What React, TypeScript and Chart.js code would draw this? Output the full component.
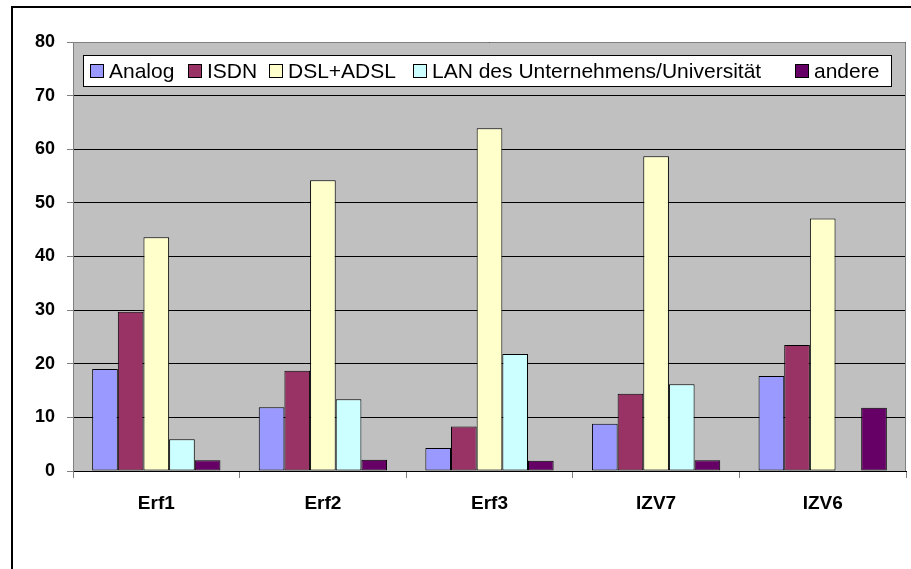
import React, { useEffect, useRef } from "react";
import { Chart, registerables } from "chart.js";

Chart.register(...registerables);

const categories = ["Erf1", "Erf2", "Erf3", "IZV7", "IZV6"];
const seriesNames = ["Analog", "ISDN", "DSL+ADSL", "LAN des Unternehmens/Universität", "andere"];
const analog = [19.0, 11.9, 4.3, 8.8, 17.7];
const isdn = [29.7, 18.7, 8.3, 14.4, 23.5];
const dsl = [43.6, 54.2, 63.9, 58.7, 47.1];
const lan = [5.9, 13.4, 21.8, 16.2, null];
const andere = [2.0, 2.1, 1.9, 2.0, 11.8];
const yMin = 0;
const yMax = 80;
const yStep = 10;

const seriesColors = ["#9999FF", "#993366", "#FFFFCC", "#CCFFFF", "#660066"];

const FONT = "'Liberation Sans', Arial, sans-serif";

// layout of the legend (Excel style, inside the plot)
const LEGEND_BOX = { x1: 83.5, y1: 55.5, x2: 891.5, y2: 86.5 };
const LEGEND_ITEM_X = [90, 188, 269, 413, 795];

const framePlugin = {
  id: "frame",
  beforeDraw(chart: any) {
    const { ctx, width, height, chartArea } = chart;
    ctx.save();
    ctx.fillStyle = "#ffffff";
    ctx.fillRect(0, 0, width, height);
    // outer chart frame (cropped at right/bottom)
    ctx.strokeStyle = "#000000";
    ctx.lineWidth = 2;
    ctx.beginPath();
    ctx.moveTo(12, height + 2);
    ctx.lineTo(12, 7);
    ctx.lineTo(width + 2, 7);
    ctx.stroke();
    // plot background
    ctx.fillStyle = "#C0C0C0";
    ctx.fillRect(chartArea.left, chartArea.top, chartArea.right - chartArea.left, chartArea.bottom - chartArea.top);
    ctx.restore();
  },
  beforeDatasetsDraw(chart: any) {
    const { ctx, chartArea } = chart;
    ctx.save();
    ctx.strokeStyle = "#808080";
    ctx.lineWidth = 1;
    ctx.beginPath();
    ctx.moveTo(chartArea.left + 0.5, chartArea.bottom);
    ctx.lineTo(chartArea.left + 0.5, chartArea.top + 0.5);
    ctx.lineTo(chartArea.right - 0.5, chartArea.top + 0.5);
    ctx.lineTo(chartArea.right - 0.5, chartArea.bottom);
    ctx.stroke();
    ctx.restore();
  },
  afterDatasetsDraw(chart: any) {
    const { ctx } = chart;
    ctx.save();
    ctx.fillStyle = "#ffffff";
    ctx.strokeStyle = "#000000";
    ctx.lineWidth = 1;
    ctx.fillRect(LEGEND_BOX.x1, LEGEND_BOX.y1, LEGEND_BOX.x2 - LEGEND_BOX.x1, LEGEND_BOX.y2 - LEGEND_BOX.y1);
    ctx.strokeRect(LEGEND_BOX.x1, LEGEND_BOX.y1, LEGEND_BOX.x2 - LEGEND_BOX.x1, LEGEND_BOX.y2 - LEGEND_BOX.y1);
    const cy = (LEGEND_BOX.y1 + LEGEND_BOX.y2) / 2;
    ctx.font = `21px ${FONT}`;
    ctx.textBaseline = "middle";
    ctx.textAlign = "left";
    chart.data.datasets.forEach((ds: any, i: number) => {
      const x = LEGEND_ITEM_X[i];
      ctx.fillStyle = ds.backgroundColor;
      ctx.fillRect(x + 0.5, cy - 6.5, 13, 13);
      ctx.strokeStyle = "#000000";
      ctx.strokeRect(x + 0.5, cy - 6.5, 13, 13);
      ctx.fillStyle = "#000000";
      ctx.fillText(ds.label, x + 19, cy + 1);
    });
    ctx.restore();
  },
};

export default function App() {
  const canvasRef = useRef<HTMLCanvasElement | null>(null);

  useEffect(() => {
    if (!canvasRef.current) return;
    const seriesValues = [analog, isdn, dsl, lan, andere];
    const chart = new Chart(canvasRef.current, {
      type: "bar",
      data: {
        labels: categories,
        datasets: seriesNames.map((name, i) => ({
          label: name,
          data: seriesValues[i],
          backgroundColor: seriesColors[i],
          borderColor: "#000000",
          borderWidth: 1,
          borderSkipped: false,
          categoryPercentage: 0.77,
          barPercentage: 1.0,
        })),
      },
      options: {
        animation: false,
        responsive: false,
        maintainAspectRatio: false,
        layout: { padding: { top: 42, right: 5, left: 0, bottom: 0 } },
        plugins: {
          legend: { display: false },
          tooltip: { enabled: false },
        },
        scales: {
          x: {
            afterFit: (scale: any) => {
              scale.height = 98;
            },
            grid: {
              offset: true,
              drawOnChartArea: false,
              drawTicks: true,
              tickLength: 7,
              tickColor: "#808080",
              color: "#808080",
            },
            border: { color: "#000000", width: 1 },
            ticks: {
              color: "#000000",
              padding: 14,
              font: { family: FONT, size: 19, weight: "bold" },
            },
          },
          y: {
            min: yMin,
            max: yMax,
            afterFit: (scale: any) => {
              scale.width = 73;
            },
            grid: {
              color: "#000000",
              tickColor: "#808080",
              tickLength: 6,
              lineWidth: 1,
            },
            border: { color: "#808080", width: 1 },
            ticks: {
              stepSize: yStep,
              color: "#000000",
              padding: 12,
              font: { family: FONT, size: 18, weight: "bold" },
            },
          },
        },
      },
      plugins: [framePlugin],
    });
    return () => chart.destroy();
  }, []);

  return (
    <div style={{ position: "fixed", left: 0, top: 0, width: 911, height: 569, background: "#fff" }}>
      <canvas ref={canvasRef} width={911} height={569} style={{ display: "block" }} />
    </div>
  );
}
